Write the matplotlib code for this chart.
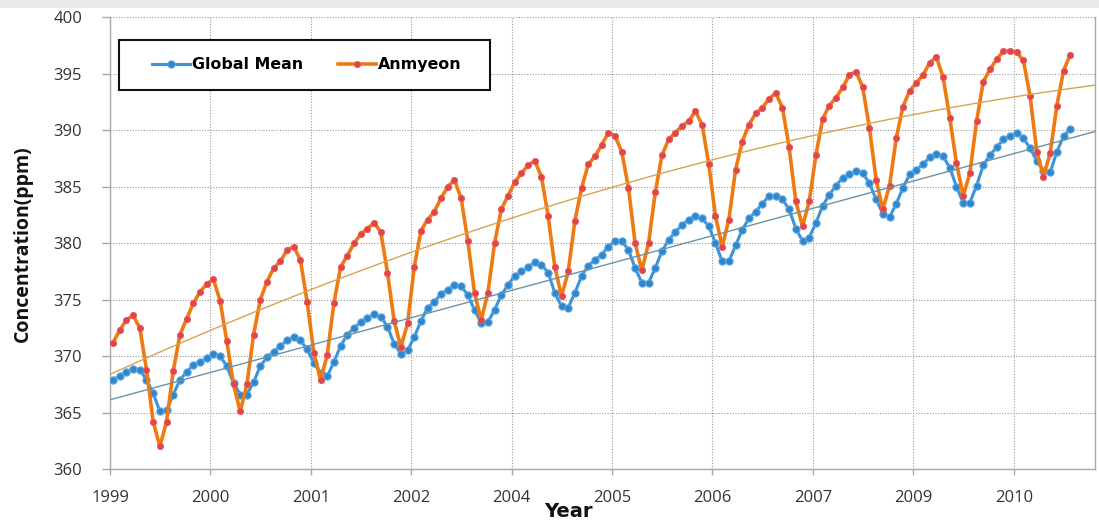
import numpy as np
import matplotlib.pyplot as plt
from matplotlib.patches import Rectangle

# monthly CO2 concentration (ppm), Jan 1999 - Dec 2010
global_mean = [
    367.9, 368.25, 368.6, 368.9, 368.8, 367.9, 366.7, 365.1, 365.2, 366.6, 367.9, 368.6,
    369.2, 369.5, 369.8, 370.2, 370.0, 369.1, 367.6, 366.6, 366.6, 367.7, 369.1, 369.9,
    370.4, 370.9, 371.4, 371.7, 371.4, 370.6, 369.4, 368.5, 368.2, 369.5, 370.9, 371.9,
    372.5, 373.0, 373.4, 373.7, 373.5, 372.6, 371.1, 370.2, 370.5, 371.7, 373.1, 374.3,
    374.8, 375.5, 375.9, 376.3, 376.2, 375.4, 374.1, 372.9, 373.0, 374.1, 375.4, 376.3,
    377.1, 377.5, 377.9, 378.3, 378.1, 377.4, 375.6, 374.4, 374.3, 375.6, 377.1, 378.0,
    378.5, 379.0, 379.7, 380.2, 380.2, 379.4, 377.8, 376.5, 376.5, 377.8, 379.3, 380.3,
    381.0, 381.6, 382.1, 382.4, 382.2, 381.5, 380.0, 378.4, 378.4, 379.8, 381.2, 382.2,
    382.8, 383.5, 384.2, 384.2, 383.9, 383.0, 381.3, 380.2, 380.5, 381.8, 383.3, 384.3,
    385.1, 385.8, 386.1, 386.4, 386.2, 385.3, 383.9, 382.6, 382.3, 383.5, 384.9, 386.1,
    386.5, 387.0, 387.6, 387.9, 387.7, 386.7, 385.0, 383.6, 383.6, 385.1, 386.9, 387.8,
    388.5, 389.2, 389.5, 389.8, 389.3, 388.4, 387.3, 386.4, 386.3, 388.1, 389.5, 390.1,
]

anmyeon = [
    371.2, 372.3, 373.2, 373.6, 372.5, 368.8, 364.2, 362.0, 364.2, 368.7, 371.9, 373.3,
    374.7, 375.7, 376.4, 376.8, 374.9, 371.3, 367.5, 365.1, 367.5, 371.9, 375.0, 376.6,
    377.8, 378.4, 379.4, 379.7, 378.5, 374.8, 370.3, 367.9, 370.1, 374.7, 377.9, 378.9,
    380.0, 380.8, 381.3, 381.8, 381.0, 377.4, 373.1, 370.8, 372.9, 377.9, 381.1, 382.1,
    382.8, 384.0, 385.0, 385.6, 384.0, 380.2, 375.6, 373.2, 375.6, 380.0, 383.0, 384.2,
    385.4, 386.2, 386.9, 387.3, 385.9, 382.4, 377.9, 375.3, 377.5, 382.0, 384.9, 387.0,
    387.7, 388.7, 389.8, 389.5, 388.1, 384.9, 380.0, 377.6, 380.0, 384.5, 387.8, 389.2,
    389.8, 390.4, 390.8, 391.7, 390.5, 387.0, 382.4, 379.7, 382.1, 386.5, 389.0, 390.5,
    391.5, 392.0, 392.8, 393.3, 392.0, 388.5, 383.7, 381.5, 383.7, 387.8, 391.0, 392.2,
    392.9, 393.8, 394.9, 395.2, 393.8, 390.2, 385.6, 383.0, 385.1, 389.3, 392.1, 393.5,
    394.2, 394.9, 396.0, 396.5, 394.7, 391.1, 387.1, 384.2, 386.2, 390.8, 394.3, 395.4,
    396.3, 397.0, 397.0, 396.9, 396.2, 393.0, 388.1, 385.9, 388.0, 392.2, 395.3, 396.7,
]

# category axis labels, one every 15 months
tick_labels = ['1999', '2000', '2001', '2002', '2004', '2005', '2006', '2007', '2009', '2010']
tick_step = 15

plt.rcParams['font.family'] = ['Open Sans', 'DejaVu Sans']

fig = plt.figure(figsize=(10.99, 5.29), dpi=100)
fig.patches.append(Rectangle((0, 0.984), 1, 0.016, transform=fig.transFigure,
                             facecolor='#e9e9e9', edgecolor='none', zorder=0))
ax = fig.add_axes([0.1001, 0.1134, 0.8963, 0.8536])

x = np.arange(len(anmyeon))
x0 = -0.45   # points sit a little right of the category ticks
x_trend = np.linspace(x0, 146.7, 200)

ax.plot(x, global_mean, color='#3d93d8', lw=2.2, marker='o', ms=5.2,
        mfc='#2f86cc', mec='#5aa6e0', mew=0.8, label='Global Mean', zorder=3)
ax.plot(x, anmyeon, color='#f07a12', lw=2.6, marker='o', ms=4.5,
        mfc='#e0444e', mec='#e85a50', mew=0.6, label='Anmyeon', zorder=4)

# trend lines
fit_g = np.polyfit(x, global_mean, 1)
fit_a = np.polyfit(x, anmyeon, 2)
ax.plot(x_trend, np.polyval(fit_g, x_trend), color='#6a93a8', lw=1.0, zorder=5)
ax.plot(x_trend, np.polyval(fit_a, x_trend), color='#d9a24e', lw=1.0, zorder=5)

ax.set_xlim(x0, 146.7)
ax.set_ylim(360, 400)
ax.set_yticks(np.arange(360, 401, 5))
ax.set_xticks(np.arange(len(tick_labels)) * tick_step + x0)
ax.set_xticklabels(tick_labels)

ax.grid(True, color='#9a9a9a', linestyle=(0, (1, 1.5)), lw=0.8)
ax.set_axisbelow(True)
for side in ['left', 'bottom', 'right']:
    ax.spines[side].set_color('#a8a8a8')
    ax.spines[side].set_linewidth(1.0)
ax.spines['top'].set_visible(False)

ax.tick_params(axis='x', length=4, width=1, color='#a8a8a8', pad=11,
               labelsize=12, labelcolor='#333333')
ax.tick_params(axis='y', length=6, width=1, color='#a8a8a8', pad=14,
               labelsize=12, labelcolor='#333333')

ax.set_ylabel('Concentration(ppm)', fontsize=14, fontweight='bold', color='#111111')
ax.yaxis.set_label_coords(-0.078, 0.5)
ax.set_xlabel('Year', fontsize=14, fontweight='bold', family='DejaVu Sans', color='#111111')
ax.xaxis.set_label_coords(0.465, -0.072)

# legend box drawn by hand so its size matches the original
ax.add_patch(Rectangle((0.0091, 0.8394), 0.3766, 0.1107, transform=ax.transAxes,
                       facecolor='white', edgecolor='#111111', lw=1.5, zorder=6))
leg = ax.legend(loc='center left', bbox_to_anchor=(0.0426, 0.8948), ncol=2,
                frameon=False, borderaxespad=0, borderpad=0,
                handlelength=2.4, handletextpad=0.13, columnspacing=2.2,
                prop={'family': 'DejaVu Sans', 'weight': 'bold', 'size': 11.4})
leg.set_zorder(7)

fig.savefig('out.png', dpi=100)
